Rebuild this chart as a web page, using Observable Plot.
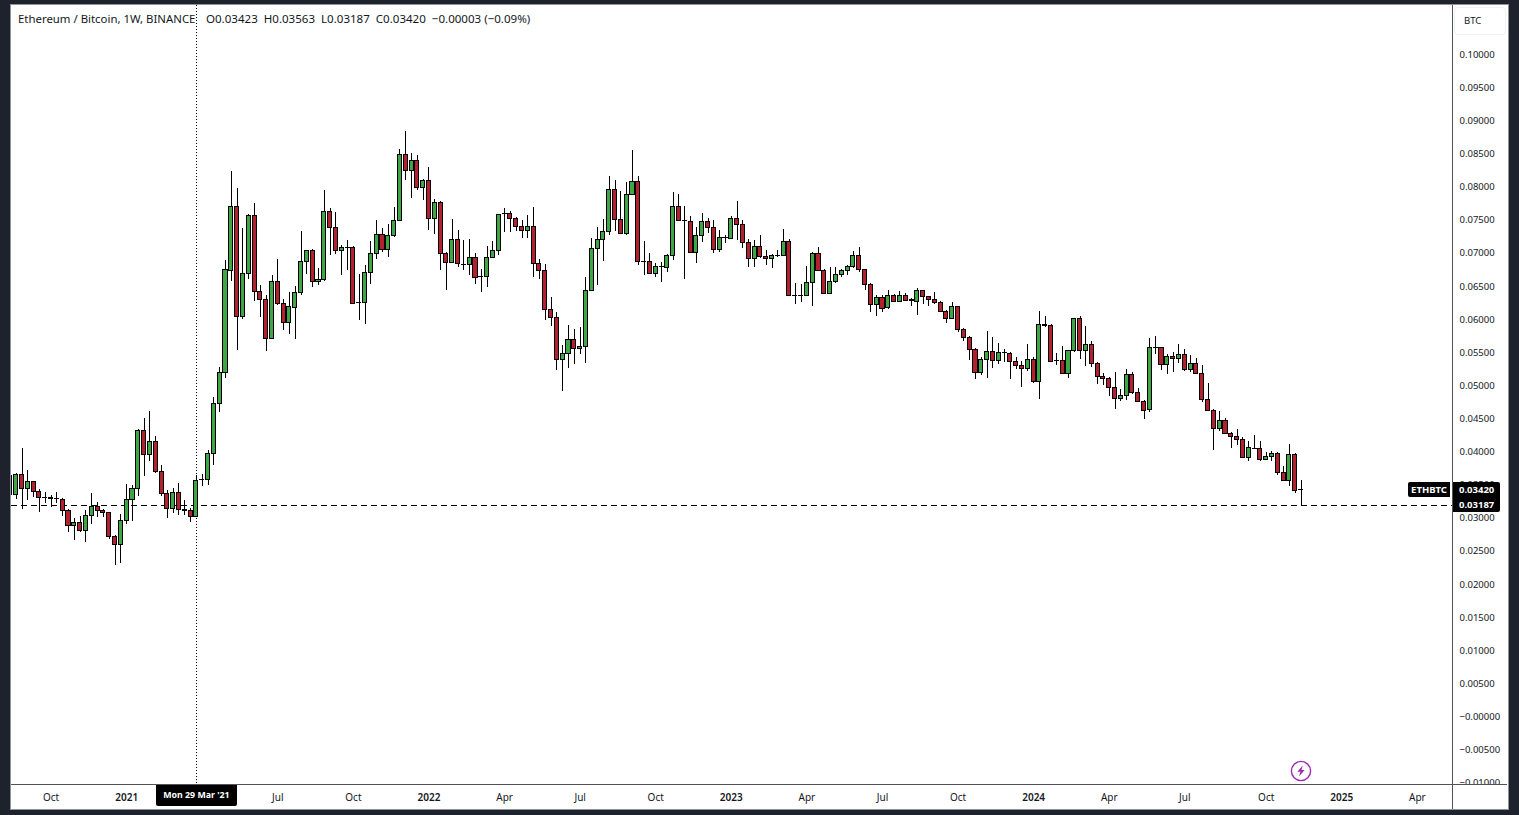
<!DOCTYPE html>
<html>
<head>
<meta charset="utf-8">
<script src="https://cdn.jsdelivr.net/npm/d3@7"></script>
<script src="https://cdn.jsdelivr.net/npm/@observablehq/plot@0.6"></script>
<style>
html,body{margin:0;padding:0;background:#1e222d;overflow:hidden;width:1519px;height:815px}
#stage{position:absolute;left:0;top:0;width:1519px;height:815px;font-family:"Noto Sans",sans-serif;color:#131722}
#panel{position:absolute;left:10px;top:4px;width:1497px;height:804px;background:#fff;border:1px solid #8f939b}
.line{position:absolute;background:#50535e}
.tag{position:absolute;background:#000;color:#fff;font-weight:700;font-size:9.5px;line-height:15px;height:15px;white-space:pre}
#legend{position:absolute;left:18px;top:11px;font-size:11.4px;line-height:16px;white-space:pre;color:#131722}
#legend span{position:absolute;top:0;font-size:11.55px}
#btc{position:absolute;left:1454px;top:7px;width:50px;height:26px;border:1px solid #f0f1f3;border-radius:4px;font-size:9.5px;line-height:26px;text-indent:9px;background:#fff}
#cross{position:absolute;background:#000;color:#fff;font-weight:700;font-size:8.8px;height:21px;line-height:21px;text-align:center;border-radius:0 0 2px 2px}
#cover{position:absolute;left:1453px;top:785px;width:54px;height:8px;background:#fff}
#bolt{position:absolute}
</style>
</head>
<body>
<div id="stage">
  <div id="panel"></div>
</div>
<script>
// Weekly ETH/BTC candles, oldest first
const firstWeek = "2020-08-17";
const open = [
0.03634,0.03347,0.03649,0.03438,0.03543,0.03392,0.03302,0.03292,0.03287,0.03271,
0.03105,0.02879,0.02924,0.02803,0.03030,0.03166,0.03105,0.03075,0.02713,0.02592,
0.02954,0.03271,0.03438,0.04314,0.03951,0.04148,0.03694,0.03362,0.03136,0.03377,
0.03120,0.03105,0.03015,0.03564,0.03574,0.03966,0.04726,0.05194,0.06730,0.07696,
0.06036,0.06685,0.07561,0.06413,0.06292,0.05703,0.06564,0.06232,0.05945,0.06171,
0.06398,0.06866,0.07032,0.06564,0.06594,0.07621,0.07379,0.07032,0.07077,0.07077,
0.06247,0.06247,0.06700,0.06987,0.07274,0.07047,0.07259,0.07485,0.08482,0.08240,
0.08391,0.07983,0.08089,0.07515,0.07757,0.06987,0.06851,0.07198,0.06821,0.06821,
0.06926,0.06634,0.06640,0.06926,0.07032,0.07591,0.07591,0.07515,0.07394,0.07334,
0.07394,0.06836,0.06730,0.06141,0.06020,0.05386,0.05477,0.05688,0.05552,0.05583,
0.06428,0.07062,0.07198,0.07319,0.07953,0.07500,0.07289,0.07878,0.08074,0.06866,
0.06866,0.06685,0.06785,0.06775,0.06957,0.07696,0.07480,0.07470,0.07002,0.07259,
0.07470,0.07379,0.07047,0.07223,0.07213,0.07515,0.07425,0.07153,0.06911,0.07092,
0.06941,0.06911,0.06952,0.06957,0.07168,0.06348,0.06348,0.06353,0.06549,0.06987,
0.06730,0.06383,0.06564,0.06670,0.06730,0.06790,0.06957,0.06745,0.06519,0.06217,
0.06322,0.06171,0.06353,0.06262,0.06353,0.06282,0.06262,0.06428,0.06337,0.06292,
0.06247,0.06111,0.06005,0.06186,0.05839,0.05718,0.05537,0.05190,0.05386,0.05507,
0.05366,0.05487,0.05477,0.05356,0.05296,0.05250,0.05386,0.05054,0.05905,0.05900,
0.05371,0.05371,0.05170,0.05522,0.06005,0.05522,0.05613,0.05326,0.05129,0.05099,
0.04963,0.04797,0.04843,0.05160,0.04888,0.04752,0.04631,0.05567,0.05567,0.05311,
0.05431,0.05401,0.05462,0.05235,0.05326,0.05175,0.04782,0.04616,0.04344,0.04465,
0.04269,0.04223,0.04178,0.03906,0.04042,0.04042,0.03876,0.03922,0.03967,0.03680,
0.03559,0.03952,0.03423];
const high = [
0.03660,0.03664,0.04042,0.03715,0.03543,0.03423,0.03382,0.03332,0.03382,0.03287,
0.03120,0.02984,0.03020,0.03110,0.03362,0.03226,0.03120,0.03075,0.02728,0.03045,
0.03498,0.03483,0.04329,0.04495,0.04601,0.04223,0.03785,0.03407,0.03438,0.03513,
0.03256,0.03136,0.03634,0.03649,0.04012,0.04812,0.05270,0.06886,0.08230,0.07968,
0.07364,0.07576,0.07742,0.06504,0.06353,0.06655,0.06896,0.06292,0.06398,0.06489,
0.07319,0.07032,0.07047,0.06760,0.07938,0.07666,0.07606,0.07108,0.07183,0.07092,
0.06670,0.06806,0.07168,0.07485,0.07364,0.07425,0.07681,0.08557,0.08829,0.08497,
0.08466,0.08104,0.08285,0.07802,0.07772,0.07002,0.07500,0.07334,0.07188,0.07203,
0.06987,0.06745,0.07092,0.07168,0.07576,0.07666,0.07621,0.07530,0.07490,0.07561,
0.07681,0.06896,0.06821,0.06322,0.06096,0.05598,0.05900,0.05839,0.05869,0.06624,
0.07213,0.07379,0.07500,0.08149,0.08089,0.07923,0.08059,0.08547,0.08149,0.07168,
0.06987,0.06836,0.06851,0.06972,0.07908,0.07878,0.07696,0.07545,0.07379,0.07591,
0.07515,0.07485,0.07334,0.07264,0.07545,0.07777,0.07485,0.07198,0.07183,0.07259,
0.07032,0.06972,0.07042,0.07349,0.07198,0.06534,0.06519,0.06790,0.07002,0.07077,
0.06745,0.06775,0.06775,0.06745,0.06806,0.07017,0.07077,0.06745,0.06534,0.06353,
0.06353,0.06428,0.06373,0.06413,0.06383,0.06307,0.06458,0.06428,0.06337,0.06398,
0.06262,0.06126,0.06247,0.06186,0.05854,0.05733,0.05552,0.05416,0.05809,0.05718,
0.05628,0.05537,0.05492,0.05416,0.05356,0.05613,0.05416,0.06111,0.06035,0.05915,
0.05477,0.05582,0.05522,0.06005,0.06035,0.05884,0.05658,0.05341,0.05175,0.05114,
0.05190,0.04933,0.05235,0.05190,0.04948,0.04767,0.05703,0.05733,0.05567,0.05462,
0.05492,0.05613,0.05537,0.05446,0.05401,0.05296,0.05024,0.04631,0.04601,0.04495,
0.04284,0.04329,0.04208,0.04148,0.04239,0.04148,0.03982,0.03997,0.03982,0.03770,
0.04103,0.03967,0.03563];
const low = [
0.03330,0.03282,0.03131,0.03266,0.03312,0.03085,0.03221,0.03161,0.03221,0.03025,
0.02783,0.02662,0.02783,0.02632,0.02904,0.03010,0.02999,0.02677,0.02285,0.02315,
0.02894,0.02949,0.03327,0.03629,0.03856,0.03664,0.03327,0.02995,0.03070,0.03040,
0.03040,0.02934,0.02999,0.03478,0.03493,0.03795,0.04590,0.05104,0.06574,0.05532,
0.05990,0.06604,0.06272,0.06031,0.05517,0.05703,0.06202,0.05834,0.05774,0.05698,
0.06353,0.06680,0.06483,0.06509,0.06574,0.06957,0.06982,0.06655,0.06740,0.06232,
0.05985,0.05925,0.06529,0.06906,0.07012,0.06936,0.07228,0.07485,0.08099,0.07827,
0.07938,0.07797,0.07344,0.07284,0.06730,0.06438,0.06851,0.06775,0.06735,0.06660,
0.06519,0.06408,0.06483,0.06911,0.06967,0.07314,0.07314,0.07329,0.07223,0.07223,
0.06634,0.06594,0.05985,0.05895,0.05230,0.04913,0.05250,0.05311,0.05472,0.05326,
0.06428,0.06514,0.06876,0.07259,0.07324,0.07289,0.07264,0.07878,0.06816,0.06665,
0.06685,0.06634,0.06559,0.06710,0.06891,0.07470,0.06604,0.06987,0.06846,0.07163,
0.07289,0.06987,0.07012,0.07148,0.07198,0.07188,0.07072,0.06785,0.06785,0.06911,
0.06816,0.06770,0.06926,0.06957,0.06353,0.06227,0.06257,0.06353,0.06192,0.06715,
0.06383,0.06383,0.06544,0.06634,0.06665,0.06760,0.06710,0.06438,0.06106,0.06046,
0.06106,0.06141,0.06247,0.06262,0.06262,0.06196,0.06061,0.06227,0.06196,0.06227,
0.06111,0.05940,0.06005,0.05804,0.05668,0.05381,0.05094,0.05155,0.05109,0.05260,
0.05321,0.05351,0.05094,0.05245,0.04973,0.05215,0.05034,0.04792,0.05879,0.05351,
0.05306,0.05170,0.05109,0.05492,0.05396,0.05291,0.05275,0.05019,0.04993,0.04827,
0.04631,0.04752,0.04767,0.04858,0.04737,0.04480,0.04586,0.05462,0.05220,0.05160,
0.05190,0.05326,0.05205,0.05190,0.05160,0.04737,0.04601,0.04012,0.04299,0.04269,
0.04042,0.04088,0.03906,0.03846,0.04027,0.03846,0.03861,0.03846,0.03635,0.03559,
0.03468,0.03363,0.03187];
const close = [
0.03347,0.03649,0.03438,0.03543,0.03392,0.03302,0.03297,0.03287,0.03282,0.03105,
0.02879,0.02924,0.02803,0.03030,0.03166,0.03105,0.03075,0.02713,0.02592,0.02954,
0.03271,0.03438,0.04314,0.03951,0.04148,0.03694,0.03362,0.03136,0.03377,0.03120,
0.03105,0.03015,0.03558,0.03574,0.03966,0.04722,0.05194,0.06735,0.07696,0.06036,
0.06685,0.07561,0.06413,0.06292,0.05703,0.06564,0.06232,0.05945,0.06187,0.06398,
0.06866,0.07032,0.06564,0.06594,0.07621,0.07379,0.07032,0.07077,0.07072,0.06232,
0.06242,0.06700,0.06987,0.07274,0.07047,0.07259,0.07485,0.08482,0.08240,0.08391,
0.07983,0.08089,0.07515,0.07757,0.06987,0.06851,0.07198,0.06826,0.06816,0.06926,
0.06624,0.06629,0.06926,0.07032,0.07576,0.07586,0.07515,0.07394,0.07334,0.07394,
0.06836,0.06730,0.06141,0.06020,0.05386,0.05477,0.05688,0.05552,0.05583,0.06428,
0.07062,0.07198,0.07319,0.07953,0.07500,0.07289,0.07878,0.08074,0.06866,0.06861,
0.06685,0.06791,0.06780,0.06957,0.07696,0.07485,0.07475,0.07002,0.07259,0.07470,
0.07379,0.07047,0.07228,0.07218,0.07515,0.07425,0.07153,0.06911,0.07092,0.06941,
0.06911,0.06957,0.06947,0.07168,0.06353,0.06343,0.06343,0.06549,0.06987,0.06730,
0.06383,0.06564,0.06670,0.06730,0.06790,0.06957,0.06745,0.06519,0.06217,0.06322,
0.06156,0.06353,0.06262,0.06353,0.06277,0.06277,0.06428,0.06337,0.06292,0.06247,
0.06111,0.06005,0.06186,0.05834,0.05718,0.05537,0.05190,0.05386,0.05507,0.05371,
0.05492,0.05482,0.05351,0.05296,0.05250,0.05386,0.05054,0.05915,0.05900,0.05351,
0.05366,0.05170,0.05522,0.06005,0.05522,0.05613,0.05321,0.05125,0.05099,0.04963,
0.04797,0.04843,0.05160,0.04888,0.04752,0.04616,0.05567,0.05562,0.05311,0.05431,
0.05401,0.05462,0.05235,0.05326,0.05175,0.04782,0.04616,0.04344,0.04465,0.04269,
0.04223,0.04178,0.03906,0.04057,0.04037,0.03876,0.03922,0.03967,0.03680,0.03559,
0.03952,0.03408,0.03420];

const priceTicks = [0.1,0.095,0.09,0.085,0.08,0.075,0.07,0.065,0.06,0.055,0.05,0.045,0.04,0.035,0.03,0.025,0.02,0.015,0.01,0.005,0,-0.005,-0.01];
const priceTickLabels = ["0.10000","0.09500","0.09000","0.08500","0.08000","0.07500","0.07000","0.06500","0.06000","0.05500","0.05000","0.04500","0.04000","0.03500","0.03000","0.02500","0.02000","0.01500","0.01000","0.00500","\u22120.00000","\u22120.00500","\u22120.01000"];
const monthTicks = ["2020-10-05","2021-07-05","2021-10-04","2022-04-04","2022-07-04","2022-10-03","2023-04-03","2023-07-03","2023-10-02","2024-04-01","2024-07-01","2024-10-07","2025-04-07"];
const yearTicks = ["2021-01-04","2022-01-03","2023-01-02","2024-01-01","2025-01-06"];
const viewDomain = ["2020-08-18T08:00Z","2025-05-19T08:00Z"];
const crossDate = "2021-03-29";
const crossLabel = "Mon 29 Mar '21";
const lastClose = 0.03420, lastLow = 0.03187;
const symbol = "ETHBTC";
const legendTitle = "Ethereum / Bitcoin, 1W, BINANCE";
const legendValues = "O0.03423  H0.03563  L0.03187  C0.03420  \u22120.00003 (\u22120.09%)";

const DAY = 864e5;
const candles = open.map((o,i)=>{
  const date = new Date(+new Date(firstWeek) + i*7*DAY);
  return {date, open:o, high:high[i], low:low[i], close:close[i],
          from:new Date(+date-2.45*DAY), to:new Date(+date+2.45*DAY)};
});
const toDate = s => new Date(s);

const chart = Plot.plot({
  width:1519, height:815,
  marginLeft:11, marginRight:67, marginTop:5, marginBottom:31,
  style:{background:"transparent",fontFamily:"'Noto Sans',sans-serif",fontSize:"9.5px",color:"#131722",overflow:"visible",position:"absolute",left:"0",top:"0"},
  x:{type:"utc",domain:viewDomain.map(toDate)},
  y:{type:"linear",domain:[-0.01027,0.10736]},
  marks:[
    Plot.axisY({anchor:"right",ticks:priceTicks,tickSize:0,tickPadding:7,label:null,dy:0.5,
      tickFormat:v=>priceTickLabels[priceTicks.indexOf(v)]}),
    Plot.axisX({ticks:monthTicks.map(toDate),tickSize:0,tickPadding:9,label:null,tickFormat:d3.utcFormat("%b"),fontSize:10}),
    Plot.axisX({ticks:yearTicks.map(toDate),tickSize:0,tickPadding:9,label:null,tickFormat:d3.utcFormat("%Y"),fontSize:10,fontWeight:600}),
    Plot.ruleY([lastLow],{stroke:"#000",strokeWidth:1,strokeDasharray:"6,4",shapeRendering:"crispEdges",clip:true}),
    Plot.ruleX([toDate(crossDate)],{stroke:"#000",strokeWidth:1,strokeDasharray:"1,2",shapeRendering:"crispEdges",clip:true}),
    Plot.ruleX(candles,{x:"date",y1:"low",y2:"high",stroke:"#000",strokeWidth:1,shapeRendering:"crispEdges",clip:true}),
    Plot.rect(candles,{x1:"from",x2:"to",y1:"open",y2:"close",
      fill:d=>d.close>d.open?"#3fa646":"#b3202e",stroke:"#000",strokeWidth:1,shapeRendering:"crispEdges",clip:true})
  ]
});
const stage = document.getElementById("stage");
stage.appendChild(chart);

const sx = chart.scale("x"), sy = chart.scale("y");
const right = sx.range[1], bottom = sy.range[0];
function add(id,cls,css,text){
  const el = document.createElement("div");
  if(id) el.id=id; if(cls) el.className=cls;
  Object.assign(el.style,css); if(text!=null) el.textContent=text;
  stage.appendChild(el); return el;
}
// panel separators and the strip that cuts the lowest price label
add("cover",null,{});
add(null,"line",{left:right+"px",top:"5px",width:"1px",height:"804px"});
add(null,"line",{left:"11px",top:bottom+"px",width:"1496px",height:"1px"});
// legend
const lg = add("legend",null,{},legendTitle);
const lv = document.createElement("span"); lv.textContent=legendValues; lv.style.left="188px"; lg.appendChild(lv);
add("btc",null,{},"BTC");
// price tags, placed through the y scale
const tagY = v => sy.apply(v);
add(null,"tag",{left:"1408px",top:(tagY(lastClose)-7.5)+"px",width:"42px",textAlign:"center",borderRadius:"2px 0 0 2px"},symbol);
add(null,"tag",{left:(right+1)+"px",top:(tagY(lastClose)-7.5)+"px",width:"47px",textIndent:"6px",borderRadius:"0 2px 0 0"},lastClose.toFixed(5));
add(null,"tag",{left:(right+1)+"px",top:(tagY(lastLow)-7.5)+"px",width:"47px",textIndent:"6px",borderRadius:"0 0 2px 0"},lastLow.toFixed(5));
// crosshair date tag
add("cross",null,{left:(sx.apply(toDate(crossDate))-40)+"px",top:(bottom+1)+"px",width:"81px"},crossLabel);
// lightning marker above the last candle
const bolt = document.createElementNS("http://www.w3.org/2000/svg","svg");
bolt.setAttribute("id","bolt"); bolt.setAttribute("width","22"); bolt.setAttribute("height","22"); bolt.setAttribute("viewBox","-11 -11 22 22");
bolt.style.left=(sx.apply(candles[candles.length-1].date)-11)+"px"; bolt.style.top="760px";
bolt.innerHTML='<circle r="9.6" fill="#fff" stroke="#9c27b0" stroke-width="1.4"/><path d="M1.8 -5.5 L-3.6 0.8 L-0.6 0.8 L-2 5.5 L3.6 -1 L0.5 -1 Z" fill="#9c27b0"/>';
stage.appendChild(bolt);
</script>
</body>
</html>
